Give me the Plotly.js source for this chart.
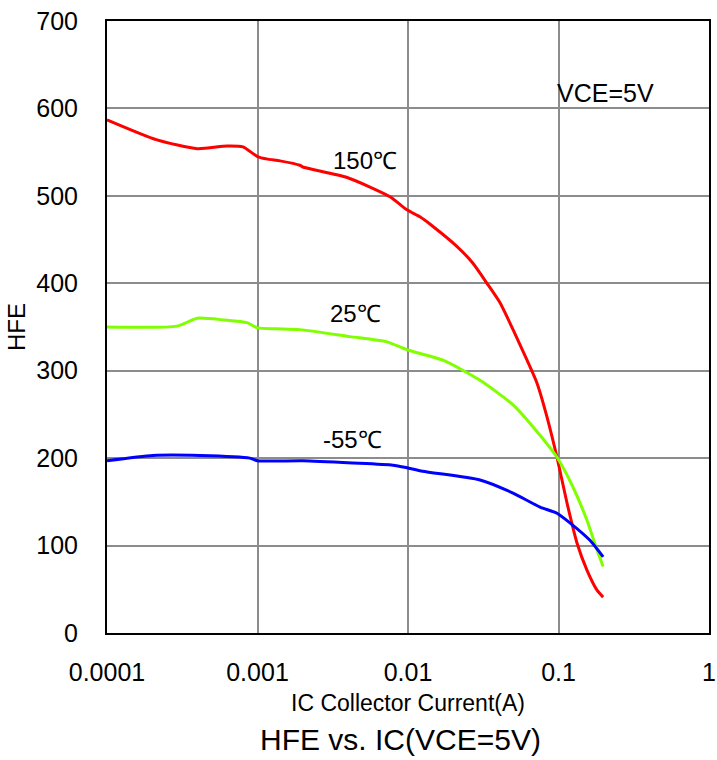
<!DOCTYPE html>
<html>
<head>
<meta charset="utf-8">
<script src="https://cdn.plot.ly/plotly-3.0.1.min.js"></script>
<style>html,body{margin:0;padding:0;background:#fff;}#chart{width:717px;height:760px;}</style>
</head>
<body>
<div id="chart"></div>
<script>
// 150°C
const ic150 = [0.0001, 0.000215, 0.000398, 0.000626, 0.0008, 0.001, 0.00117, 0.00141, 0.00191, 0.002, 0.00394, 0.00759, 0.00984, 0.012, 0.01466, 0.0212, 0.0270, 0.0335, 0.0408, 0.0499, 0.0618, 0.0719, 0.0839, 0.0977, 0.1138, 0.1327, 0.1545, 0.1803, 0.198];
const hfe150 = [587, 564, 554, 557, 556, 545, 542, 540, 535, 533, 521, 499, 484, 476, 465, 442, 423, 400, 378, 347, 312, 286, 247, 201, 149, 103, 72, 49, 41];
// 25°C
const ic25 = [0.0001, 0.000292, 0.000398, 0.000603, 0.000851, 0.001, 0.00133, 0.00191, 0.00412, 0.00724, 0.00984, 0.0171, 0.0301, 0.0499, 0.0676, 0.0977, 0.1247, 0.1545, 0.1803, 0.198];
const hfe25 = [350, 351, 360, 358, 355, 349, 348, 347, 339, 333, 324, 312, 289, 261, 236, 201, 167, 129, 95, 76];
// -55°C
const icm55 = [0.0001, 0.000202, 0.000415, 0.00089, 0.001, 0.002, 0.00431, 0.00794, 0.00984, 0.0125, 0.0301, 0.0499, 0.0754, 0.0977, 0.1191, 0.1618, 0.198];
const hfem55 = [197, 203, 203, 200, 197, 197, 194.5, 192, 189, 185, 175, 160, 144, 137, 126, 106, 87];

const xTickVals = [0.0001, 0.001, 0.01, 0.1, 1];
const xTickText = ['0.0001', '0.001', '0.01', '0.1', '1'];
const yTickVals = [0, 100, 200, 300, 400, 500, 600, 700];

const seriesNames = ['150℃', '25℃', '-55℃'];
const seriesColors = ['#ff0000', '#80ff00', '#0000ff'];

const traces = [
  {x: ic150, y: hfe150, name: seriesNames[0], color: seriesColors[0]},
  {x: ic25, y: hfe25, name: seriesNames[1], color: seriesColors[1]},
  {x: icm55, y: hfem55, name: seriesNames[2], color: seriesColors[2]}
].map(s => ({
  x: s.x, y: s.y, name: s.name, type: 'scatter', mode: 'lines',
  line: {color: s.color, width: 3, shape: 'spline', smoothing: 0.6}
}));

const font = {family: 'Liberation Sans, Arial, sans-serif', color: '#000'};
const f = sz => Object.assign({size: sz}, font);

const layout = {
  width: 717, height: 760,
  margin: {l: 107, r: 8, t: 21, b: 127},
  paper_bgcolor: '#fff', plot_bgcolor: '#fff',
  showlegend: false,
  font: f(24),
  xaxis: {
    type: 'log', range: [-4, 0],
    tickvals: xTickVals, ticktext: xTickText,
    showgrid: true, gridcolor: '#8c8c8c', gridwidth: 2,
    showline: true, linecolor: '#000', linewidth: 2, mirror: true,
    ticks: '', ticklabelstandoff: 16,
    tickfont: f(25),
    zeroline: false,
    title: {text: 'IC Collector Current(A)', font: f(23), standoff: 10}
  },
  yaxis: {
    range: [0, 700], tickvals: yTickVals,
    showgrid: true, gridcolor: '#8c8c8c', gridwidth: 2,
    showline: true, linecolor: '#000', linewidth: 2, mirror: true,
    ticks: '', ticklabelstandoff: 22,
    tickfont: f(25),
    zeroline: false,
    title: {text: 'HFE', font: f(24), standoff: 4}
  },
  annotations: [
    {text: 'VCE=5V', xref: 'x', yref: 'y', x: Math.log10(0.095), y: 618, xanchor: 'left', showarrow: false, font: f(25)},
    {text: seriesNames[0], xref: 'x', yref: 'y', x: Math.log10(0.0052), y: 540, showarrow: false, font: f(24)},
    {text: seriesNames[1], xref: 'x', yref: 'y', x: Math.log10(0.0045), y: 365, showarrow: false, font: f(24)},
    {text: seriesNames[2], xref: 'x', yref: 'y', x: Math.log10(0.0043), y: 221, showarrow: false, font: f(24)},
    {text: 'HFE vs. IC(VCE=5V)', xref: 'paper', yref: 'paper', x: 0.488, y: -0.174, yanchor: 'middle', showarrow: false, font: f(30)}
  ]
};

Plotly.newPlot('chart', traces, layout, {staticPlot: true, displayModeBar: false});
</script>
</body>
</html>
